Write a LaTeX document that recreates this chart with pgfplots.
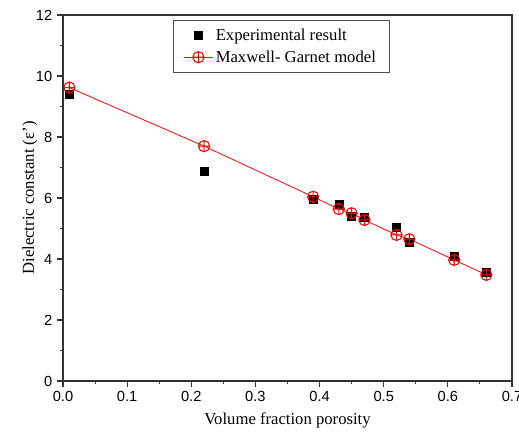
\documentclass[border=0pt]{standalone}
\usepackage{fontspec}
\setmainfont{Liberation Serif}
\setsansfont{Liberation Sans}
\usepackage{pgfplots}
\pgfplotsset{compat=1.18}
\begin{document}
\begin{tikzpicture}
\begin{axis}[
  scale only axis,
  width=336.75pt, height=274.5pt,
  xmin=0, xmax=0.7, ymin=0, ymax=12,
  xtick={0,0.1,...,0.7}, ytick={0,2,...,12},
  minor x tick num=1, minor y tick num=1,
  tick align=outside,
  xtick pos=bottom, ytick pos=left,
  major tick length=4.5pt, minor tick length=2.5pt,
  axis line style={line width=1pt, black!80},
  tick style={line width=0.8pt, black!80},
  /pgf/number format/assume math mode=true,
  xticklabel style={font=\sffamily\fontsize{11}{12}\selectfont, /pgf/number format/.cd, fixed, fixed zerofill, precision=1},
  yticklabel style={font=\sffamily\fontsize{11}{12}\selectfont},
  label style={font=\fontsize{12.5}{14}\selectfont},
  xlabel={Volume fraction porosity},
  ylabel={Dielectric constant (ε')},
  xlabel style={yshift=-1pt},
  ylabel style={yshift=-8pt},
  legend style={at={(0.486,0.985)}, anchor=north, font=\fontsize{12.5}{14}\selectfont, draw=black!70, line width=0.6pt, inner xsep=8pt, inner ysep=4pt, row sep=2pt},
  legend cell align=left,
  legend image code/.code={\draw[#1] (0cm,0cm) -- (0.75cm,0cm); \path[#1,mark repeat=2,mark phase=2] plot coordinates {(0cm,0cm) (0.375cm,0cm) (0.75cm,0cm)};},
]
\addplot[only marks, mark=square*, mark size=3pt, black, legend image code/.code={\path[only marks,mark=square*,mark size=3pt,black] plot coordinates {(0.375cm,0cm)};}] coordinates {
(0.01,9.40) (0.22,6.89) (0.39,5.96) (0.43,5.79) (0.45,5.39) (0.47,5.36) (0.52,5.03) (0.54,4.54) (0.61,4.08) (0.66,3.56)};
\addlegendentry{Experimental result}
\addplot[red, line width=0.6pt, mark=oplus, mark size=4.2pt, mark options={line width=0.8pt}] coordinates {
(0.01,9.62) (0.22,7.70) (0.39,6.04) (0.43,5.64) (0.45,5.50) (0.47,5.28) (0.52,4.79) (0.54,4.65) (0.61,3.97) (0.66,3.48)};
\addlegendentry{Maxwell- Garnet model}
\end{axis}
\pgfresetboundingbox
\path[use as bounding box] ([xshift=-47.25pt,yshift=-39pt]current axis.south west) rectangle ([xshift=5.25pt,yshift=11.25pt]current axis.north east);
\end{tikzpicture}
\end{document}
